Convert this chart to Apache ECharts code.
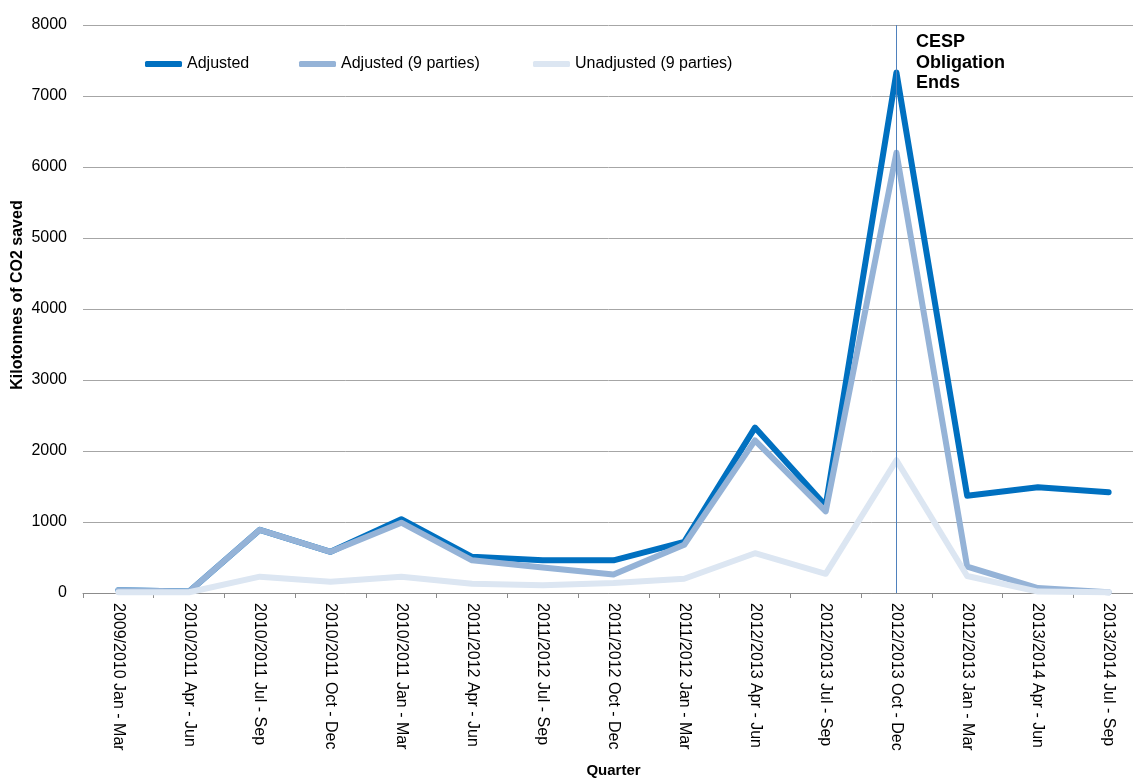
<!DOCTYPE html>
<html>
<head>
<meta charset="utf-8">
<script src="https://cdn.jsdelivr.net/npm/echarts@6/dist/echarts.min.js"></script>
<style>
  html, body { margin: 0; padding: 0; background: #fff; }
  #chart { width: 1133px; height: 779px; }
</style>
</head>
<body>
<div id="chart"></div>
<script>
// Quarterly CO2 savings (kilotonnes)
const quarters = [
  '2009/2010 Jan - Mar', '2010/2011 Apr - Jun', '2010/2011 Jul - Sep',
  '2010/2011 Oct - Dec', '2010/2011 Jan - Mar', '2011/2012 Apr - Jun',
  '2011/2012 Jul - Sep', '2011/2012 Oct - Dec', '2011/2012 Jan - Mar',
  '2012/2013 Apr - Jun', '2012/2013 Jul - Sep', '2012/2013 Oct - Dec',
  '2012/2013 Jan - Mar', '2013/2014 Apr - Jun', '2013/2014 Jul - Sep'
];
const adjusted = [40, 20, 890, 580, 1040, 510, 460, 460, 720, 2330, 1230, 7330, 1370, 1490, 1420];
const adjusted9 = [40, 20, 890, 580, 990, 460, 360, 260, 680, 2150, 1150, 6200, 370, 70, 10];
const unadjusted9 = [10, 10, 230, 160, 230, 130, 110, 140, 200, 560, 270, 1870, 240, 20, 10];
const yTicks = { min: 0, max: 8000, interval: 1000 };
const obligationEnd = '2012/2013 Oct - Dec';

const FONT = '"Liberation Sans", Arial, sans-serif';

const chart = echarts.init(document.getElementById('chart'), null, { renderer: 'canvas' });

function legendAt(left, name) {
  return {
    left: left, top: 56,
    padding: 0,
    data: [name],
    icon: 'roundRect',
    itemWidth: 37, itemHeight: 6,
    textStyle: { fontFamily: FONT, fontSize: 16, color: '#000' },
    selectedMode: false
  };
}

function lineSeries(name, data, color, width, extra) {
  return Object.assign({
    name: name,
    type: 'line',
    data: data,
    symbol: 'none',
    smooth: false,
    lineStyle: { color: color, width: width, join: 'round', cap: 'round' },
    itemStyle: { color: color },
    silent: true,
    animation: false
  }, extra || {});
}

chart.setOption({
  animation: false,
  backgroundColor: '#fff',
  grid: {
    left: 83, top: 25, width: 1061, height: 568,
    containLabel: false, outerBoundsMode: 'none'
  },
  legend: [
    legendAt(145, 'Adjusted'),
    legendAt(299, 'Adjusted (9 parties)'),
    legendAt(533, 'Unadjusted (9 parties)')
  ],
  xAxis: {
    type: 'category',
    data: quarters,
    boundaryGap: true,
    name: 'Quarter',
    nameLocation: 'middle',
    nameGap: 170,
    nameTextStyle: { fontFamily: FONT, fontSize: 15, fontWeight: 'bold', color: '#000' },
    axisLine: { lineStyle: { color: '#8c8c8c', width: 1 } },
    axisTick: { show: true, interval: 0, length: 5, lineStyle: { color: '#8c8c8c' } },
    axisLabel: {
      interval: 0, rotate: -90, margin: 10,
      fontFamily: FONT, fontSize: 16, color: '#000'
    },
    splitLine: { show: false }
  },
  yAxis: {
    type: 'value',
    min: yTicks.min, max: yTicks.max, interval: yTicks.interval,
    axisLine: { show: false },
    axisTick: { show: false },
    axisLabel: {
      margin: 16, fontFamily: FONT, fontSize: 16, color: '#000',
      formatter: function (v) { return String(v); }
    },
    splitLine: { show: true, lineStyle: { color: '#a6a6a6', width: 1 } }
  },
  series: [
    lineSeries('Adjusted', adjusted, '#0070C0', 6, {
      markLine: {
        silent: true,
        symbol: ['none', 'none'],
        label: { show: false },
        lineStyle: { color: '#4F81BD', width: 1, type: 'solid', opacity: 1 },
        data: [{ xAxis: obligationEnd }]
      }
    }),
    lineSeries('Adjusted (9 parties)', adjusted9, '#95B3D7', 6),
    lineSeries('Unadjusted (9 parties)', unadjusted9, '#DCE6F2', 6)
  ],
  graphic: [{
    type: 'text',
    left: 916, top: 32,
    style: {
      text: 'CESP\nObligation\nEnds',
      font: 'bold 18px ' + FONT,
      lineHeight: 20.5,
      fill: '#000'
    }
  }, {
    // y-axis title, rotated to read bottom-to-top
    type: 'text',
    x: 18, y: 295,
    rotation: Math.PI / 2,
    style: {
      text: 'Kilotonnes of CO2 saved',
      font: 'bold 16px ' + FONT,
      fill: '#000',
      align: 'center',
      verticalAlign: 'middle'
    }
  }]
});
</script>
</body>
</html>
